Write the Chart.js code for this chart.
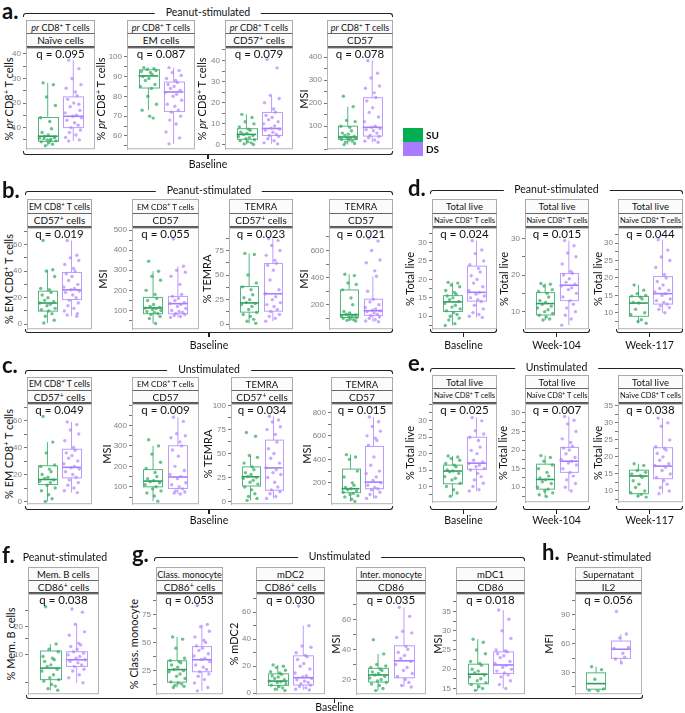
<!DOCTYPE html>
<html>
<head>
<meta charset="utf-8">
<script src="https://cdn.jsdelivr.net/npm/chart.js@4.4.1/dist/chart.umd.min.js"></script>
<style>
* { box-sizing: border-box; }
body { margin: 0; width: 685px; height: 713px; position: relative; background: #fff; font-family: Lato, sans-serif; overflow: hidden; color: #111; }
sup { font-size: 0.7em; line-height: 0; vertical-align: 0.45em; }
.strip { position: absolute; background: #fbfbfb; border: 1px solid #aaa; text-align: center; white-space: nowrap; overflow: hidden; display: flex; align-items: center; justify-content: center; }
.line { position: absolute; border-color: #222; border-style: solid; border-width: 0; }
</style>
</head>
<body>
<script>
// groups
const groups = ['SU', 'DS'];

// box stats are [lower whisker, q1, median, q3, upper whisker]
// a. Peanut-stimulated, baseline
const a1Su = [28.2, 27.5, 22.5, 19, 14, 12.5, 9.5, 8, 7, 6.5, 6, 5.7, 5.3, 5, 4.6, 4.2, 3.8, 3.2, 2.6, 6.2, 5.5, 4.8];
const a1Ds = [37.5, 34, 30, 27.5, 26, 24.5, 23, 21.5, 20, 18.5, 17, 16, 15, 14.6, 14, 13, 12, 11, 10, 9, 8, 7, 6, 5, 4.5, 19.5];
const a1SuBox = [2.6, 4.4, 6.5, 14.1, 28.2];
const a1DsBox = [4.5, 10, 14.6, 22.5, 37.5];
const a1Ticks = [10, 20, 30, 40];

const a2Su = [94.5, 94, 93.5, 93, 92.5, 92, 91, 90, 89, 88, 86, 85, 84, 80, 76, 73, 70, 69];
const a2Ds = [94.5, 93, 92, 90.5, 89, 88, 87, 86, 85, 84, 83, 82, 81, 80, 78, 76, 75, 73, 72, 70, 68, 66, 62, 59, 56];
const a2SuBox = [73, 84.2, 90.3, 93.4, 94.5];
const a2DsBox = [56, 72.3, 82.2, 87.2, 94.5];
const a2Ticks = [60, 70, 80, 90, 100];

const a3Su = [14.5, 13, 11, 10, 8.5, 7.5, 7, 6, 5.5, 5, 4.5, 4, 3.5, 3, 2.5, 2, 1.5, 1, 0.5, 0.2];
const a3Ds = [40.5, 36.5, 23.5, 22, 20, 17, 15.5, 14, 13, 12, 11, 10, 9, 8, 7.5, 7, 6, 5, 4.5, 4, 3, 2, 1, 0.5];
const a3SuBox = [0.2, 2.7, 5, 7.7, 14.5];
const a3DsBox = [0.5, 4.5, 7.8, 15.4, 23.5];
const a3Ticks = [0, 10, 20, 30, 40];

const a4Su = [230, 185, 125, 120, 100, 95, 80, 70, 65, 60, 55, 52, 50, 48, 45, 42, 40, 35, 30, 25, 20];
const a4Ds = [385, 330, 310, 275, 265, 245, 225, 210, 180, 160, 140, 120, 100, 95, 90, 85, 80, 70, 60, 55, 50, 40, 35, 30];
const a4SuBox = [20, 43, 53, 100, 185];
const a4DsBox = [30, 57, 95, 224, 385];
const a4Ticks = [100, 200, 300, 400];

// b. Peanut-stimulated, baseline
const b1Su = [63, 41, 40, 36, 27, 26, 24, 22, 20, 18, 17, 16, 15, 14, 12, 11, 10, 8, 6, 3, 1];
const b1Ds = [63, 52, 50, 48, 45, 42, 40, 38, 36, 33, 30, 28, 27, 26, 25, 24, 22, 20, 18, 16, 14, 12, 10, 8, 7, 6];
const b1SuBox = [1, 9.9, 16, 24.9, 41];
const b1DsBox = [6, 18.6, 25.9, 39, 63];
const b1Ticks = [0, 20, 40, 60];

const b2Su = [345, 295, 270, 250, 200, 180, 160, 150, 130, 120, 115, 112, 110, 105, 100, 95, 90, 85, 80, 70, 60, 35];
const b2Ds = [455, 320, 300, 290, 270, 230, 180, 170, 160, 150, 140, 135, 130, 120, 110, 100, 95, 90, 85, 80, 75, 70, 65];
const b2SuBox = [35, 84, 113, 165, 295];
const b2DsBox = [65, 84, 134, 170, 320];
const b2Ticks = [100, 200, 300, 400, 500];

const b3Su = [72, 71, 50, 42, 38, 35, 30, 27, 25, 22, 21, 20, 18, 15, 12, 10, 8, 5, 3, 1];
const b3Ds = [87, 85, 80, 75, 70, 65, 62, 60, 55, 45, 35, 31, 28, 25, 22, 20, 18, 15, 13, 10, 8, 6, 3];
const b3SuBox = [1, 12.3, 21.7, 38.3, 72];
const b3DsBox = [3, 13.3, 31, 61.7, 87];
const b3Ticks = [0, 25, 50, 75];

const b4Su = [425, 415, 360, 350, 310, 250, 200, 150, 140, 130, 125, 120, 115, 110, 105, 100, 95, 90, 85, 80];
const b4Ds = [690, 670, 600, 530, 510, 450, 410, 300, 240, 220, 200, 180, 170, 160, 155, 150, 140, 130, 120, 110, 100, 90, 80, 75];
const b4SuBox = [80, 107, 127, 309, 425];
const b4DsBox = [75, 122, 156, 241, 410];
const b4Ticks = [200, 400, 600];

// c. Unstimulated, baseline
const c1Su = [63, 44, 36, 27, 26, 24, 22, 20, 18, 17, 16, 15, 14, 12, 10, 8, 5, 2, 0];
const c1Ds = [59, 57, 53, 50, 45, 40, 38, 36, 34, 32, 30, 28, 26, 25, 24, 22, 20, 18, 16, 14, 12, 10, 8, 6.6];
const c1SuBox = [0, 12.6, 16.3, 26.5, 44];
const c1DsBox = [6.6, 17.5, 25.3, 38.7, 59];
const c1Ticks = [0, 20, 40, 60];

const c2Su = [330, 300, 260, 220, 190, 170, 150, 140, 130, 125, 120, 110, 100, 90, 80, 70, 55, 30];
const c2Ds = [440, 420, 360, 350, 340, 320, 300, 280, 250, 200, 180, 160, 150, 140, 120, 110, 100, 90, 80, 75, 70, 65];
const c2SuBox = [30, 100, 128, 184, 300];
const c2DsBox = [65, 92, 148, 301, 440];
const c2Ticks = [100, 200, 300, 400];

const c3Su = [72, 68, 48, 46, 40, 36, 33, 30, 28, 26, 25, 24, 22, 20, 18, 15, 12, 8, 5, 3, 1];
const c3Ds = [89, 85, 83, 78, 75, 70, 62, 55, 50, 45, 40, 35, 33, 30, 28, 25, 20, 15, 12, 10, 8, 5, 3];
const c3SuBox = [1, 16, 25.7, 36, 48];
const c3DsBox = [3, 11.6, 35, 64, 89];
const c3Ticks = [0, 25, 50, 75, 100];

const c4Su = [440, 420, 400, 300, 250, 200, 180, 160, 150, 140, 130, 120, 110, 100, 90, 80, 60, 42];
const c4Ds = [760, 720, 680, 640, 600, 580, 560, 520, 420, 350, 300, 280, 250, 220, 200, 180, 160, 150, 140, 120, 100, 80, 67];
const c4SuBox = [42, 116, 150, 317, 440];
const c4DsBox = [67, 150, 206, 510, 760];
const c4Ticks = [200, 400, 600, 800];

// d. Peanut-stimulated, total live naive CD8+
const d1Su = [19.2, 19, 18.5, 18, 17, 16.5, 16, 15.5, 15, 14.5, 14, 13.5, 13, 12.5, 12, 11.5, 11, 10.5, 10, 9.5, 9, 8, 7.5];
const d1Ds = [30.5, 28, 27, 25, 24, 23, 22, 21, 20, 19, 18, 17, 16.5, 16, 15.5, 15, 14.5, 14, 13, 12, 11, 10.5, 10, 9.7];
const d1SuBox = [7.5, 11.3, 13.9, 15.6, 19.2];
const d1DsBox = [9.7, 14.1, 16.5, 23.6, 30.5];
const d1Ticks = [10, 15, 20, 25, 30];

const d2Su = [17.7, 17.5, 17, 16, 15.5, 15, 14, 13, 12.5, 12, 11.5, 11, 10.5, 10, 9.5, 9, 8.5, 8, 7.7];
const d2Ds = [29.4, 28, 26, 25, 23, 21, 20.5, 20, 19, 18, 17.5, 17, 16.5, 16, 15, 14, 13, 12, 11, 10, 9, 8, 6.3];
const d2SuBox = [7.7, 9.1, 12.2, 15.2, 17.7];
const d2DsBox = [6.3, 13, 17.2, 20.4, 29.4];
const d2Ticks = [10, 20, 30];

const d3Su = [18, 16.5, 15.5, 15, 14.8, 14.5, 14, 13, 12.8, 11, 10, 9.5, 8, 7.5, 7];
const d3Ds = [31, 28, 26, 25, 23, 21, 20, 19, 18, 17, 16.5, 16, 15.5, 15, 14, 13.5, 13, 12.5, 12, 11.5, 11, 10];
const d3SuBox = [7, 9, 12.8, 14.7, 18];
const d3DsBox = [10, 12.5, 15.5, 20.4, 31];
const d3Ticks = [10, 15, 20, 25, 30];

// e. Unstimulated, total live naive CD8+
const e1Su = [19.3, 19, 18.5, 18, 17, 16.5, 16, 15, 14.7, 14.5, 14, 13, 12.5, 12, 11, 10, 9, 8, 7];
const e1Ds = [31, 30, 27, 26, 25, 24, 22, 21, 20, 18, 17.5, 17, 16.5, 16, 15.5, 15, 14, 13, 12, 11, 10, 9, 8.6];
const e1SuBox = [7, 10.8, 14.7, 16.5, 19.3];
const e1DsBox = [8.6, 15.2, 17.1, 25, 31];
const e1Ticks = [10, 15, 20, 25, 30];

const e2Su = [18.5, 18, 17, 16, 15, 14, 13, 12.5, 12, 11.5, 11, 10, 9.5, 9, 8.5, 8, 7.5];
const e2Ds = [29, 28, 27, 25, 23, 22, 21, 20.5, 20, 19, 18, 17.5, 17, 16.5, 16, 15, 14, 13, 12, 11, 10, 9];
const e2SuBox = [7.5, 9.5, 12.1, 16.2, 18.5];
const e2DsBox = [9, 14, 17, 20.7, 29];
const e2Ticks = [10, 15, 20, 25, 30];

const e3Su = [18, 17.5, 16, 15.5, 15, 14.5, 14, 13, 12, 11, 10, 9.5, 9, 8.5, 8.2];
const e3Ds = [31.4, 30, 29, 25, 23, 22.5, 22, 21, 20, 19, 18, 17.5, 17, 16, 15, 14, 13, 12, 11, 10, 9.2];
const e3SuBox = [8.2, 9.2, 14.4, 16.1, 18];
const e3DsBox = [9.2, 13.6, 17.3, 22.7, 31.4];
const e3Ticks = [10, 15, 20, 25, 30, 35];

// f. Peanut-stimulated, memory B cells (log axis)
const fSu = [33, 13.1, 11.5, 10.8, 9.6, 9.2, 8.85, 8.5, 7.8, 7.5, 7.0, 6.7, 6.1, 5.65, 5.4, 5.2, 4.8, 4.6, 4.3, 4.15];
const fDs = [31.3, 28.9, 21.4, 17.7, 16.3, 13.3, 12.8, 12.3, 11.5, 10.8, 10.4, 10, 9.6, 9.2, 8.85, 8.5, 8.2, 7.8, 7.5, 7.0, 6.7, 6.1, 5.65, 5.0];
const fSuBox = [4.15, 5.4, 7.2, 11.0, 13.1];
const fDsBox = [5.0, 7.5, 8.85, 10.8, 21.4];
const fTicks = [10, 20];
const fMinor = [5, 15, 30];

// g. Unstimulated, monocytes and DCs
const g1Su = [55, 53, 45, 36, 34, 33, 32, 30, 28, 26, 25, 24, 22, 20, 18, 15, 14, 13, 12, 11, 10];
const g1Ds = [83, 66, 64, 60, 55, 52, 50, 47, 45, 43, 40, 38, 36, 35, 33, 30, 28, 26, 24, 22, 20, 17, 14, 10, 7];
const g1SuBox = [10, 14.7, 25.9, 33.8, 55];
const g1DsBox = [7, 24, 34.7, 46.4, 66];
const g1Ticks = [25, 50, 75];

const g2Su = [21, 20, 19, 17, 16, 15, 14, 13, 12, 11, 10, 9, 8.5, 8, 7, 6, 5, 4, 3, 2];
const g2Ds = [64.5, 50, 35, 34, 30, 28, 27, 25, 22, 20, 18, 15, 13, 12, 11, 10, 9, 8, 7, 6, 5, 4, 3, 2.4];
const g2SuBox = [2, 5.8, 9, 14.4, 21];
const g2DsBox = [2.4, 6.1, 11.5, 27.7, 50];
const g2Ticks = [0, 20, 40, 60];

const g3Su = [46.5, 37, 30, 29, 28, 27, 26, 25, 24, 23, 22, 21, 20, 19, 18, 17, 16, 14, 12.6];
const g3Ds = [68, 62, 52, 51, 48, 42, 40, 38, 36, 34, 32, 30, 28, 26, 24, 22, 20, 18, 16, 15];
const g3SuBox = [12.6, 18.3, 23, 27.4, 37];
const g3DsBox = [15, 21.1, 32.4, 42.4, 68];
const g3Ticks = [20, 40, 60];

const g4Su = [27.8, 27, 25, 24, 22, 21.5, 21, 20, 19.5, 19, 18.5, 18, 17.5, 17, 16.5, 16, 15.5, 15, 14.5];
const g4Ds = [35.4, 33, 30, 28, 25, 24.8, 24.5, 24, 23.5, 23, 22, 21.5, 21, 20.5, 20, 19.5, 19, 18.5, 18, 17, 16, 15];
const g4SuBox = [14.5, 16.2, 18.7, 21.3, 27.8];
const g4DsBox = [15, 18.9, 21.1, 24.5, 35.4];
const g4Ticks = [15, 20, 25, 30, 35];

// h. Peanut-stimulated, supernatant IL2
const hSu = [36, 33, 23, 13, 11.5, 11];
const hDs = [93.5, 70, 66, 56, 55, 50, 46, 44, 40];
const hSuBox = [11, 12.7, 18.5, 29.7, 36];
const hDsBox = [40, 44.7, 54.2, 62.7, 70];
const hTicks = [30, 60, 90];

// q values
const qA = ['0.095', '0.087', '0.079', '0.078'];
const qB = ['0.019', '0.055', '0.023', '0.021'];
const qC = ['0.049', '0.009', '0.034', '0.015'];
const qD = ['0.024', '0.015', '0.044'];
const qE = ['0.025', '0.007', '0.038'];
const qF = ['0.038'];
const qG = ['0.053', '0.030', '0.035', '0.018'];
const qH = ['0.056'];

// ---- styling ----
const AX = 28, PAD = 6;
const SU_PT = 'rgba(50,170,95,0.72)', DS_PT = 'rgba(176,128,255,0.68)';
const SU_LN = '#55b683', DS_LN = '#bd9cff';
const SU_MED = '#2f9c5f', DS_MED = '#a67cff';
// fixed horizontal jitter pattern for the points
const JIT = [-0.18, 0.22, -0.05, 0.3, -0.28, 0.08, 0.15, -0.22, 0.02, -0.12, 0.26, -0.32, 0.12, -0.02, 0.32, -0.25, 0.05, 0.19, -0.09, 0.28, -0.15, 0.1, -0.3, 0.24];

const rowA = {st: 20, sm: 33, sb: 47, pb: 150};
const rowB = {st: 199, sm: 213, sb: 227, pb: 330};
const rowC = {st: 377, sm: 390, sb: 403, pb: 505};
const rowE = {st: 375, sm: 388, sb: 403, pb: 503};
const rowF = {st: 567, sm: 580, sb: 593, pb: 695};

const PR = '<i>pr</i> CD8<sup>+</sup> T cells';
const EM = 'EM CD8<sup>+</sup> T cells';
const C57P = 'CD57<sup>+</sup> cells';
const C86P = 'CD86<sup>+</sup> cells';
const NAIVE = 'Naïve CD8<sup>+</sup> T cells';

const panels = [
  {su: a1Su, ds: a1Ds, suBox: a1SuBox, dsBox: a1DsBox, ticks: a1Ticks, min: 1.2, max: 42.5, q: qA[0], s1: PR, s1f: 9, s2: 'Naïve cells', yt: '% ' + PR, tx: 8, x0: 26, x1: 95, row: rowA},
  {su: a2Su, ds: a2Ds, suBox: a2SuBox, dsBox: a2DsBox, ticks: a2Ticks, min: 53.3, max: 104.5, q: qA[1], s1: PR, s1f: 9, s2: 'EM cells', yt: '% ' + PR, tx: 100, x0: 127, x1: 195, row: rowA},
  {su: a3Su, ds: a3Ds, suBox: a3SuBox, dsBox: a3DsBox, ticks: a3Ticks, min: -2, max: 46, q: qA[2], s1: PR, s1f: 9, s2: C57P, yt: '% ' + PR, tx: 201, x0: 225, x1: 293, row: rowA},
  {su: a4Su, ds: a4Ds, suBox: a4SuBox, dsBox: a4DsBox, ticks: a4Ticks, min: 0, max: 441, q: qA[3], s1: PR, s1f: 9, s2: 'CD57', yt: 'MSI', tx: 303, x0: 327, x1: 393, row: rowA},

  {su: b1Su, ds: b1Ds, suBox: b1SuBox, dsBox: b1DsBox, ticks: b1Ticks, min: -3.7, max: 72.6, q: qB[0], s1: EM, s1f: 8.6, s2: C57P, yt: '% ' + EM, tx: 8, x0: 27, x1: 92, row: rowB},
  {su: b2Su, ds: b2Ds, suBox: b2SuBox, dsBox: b2DsBox, ticks: b2Ticks, min: 7, max: 511, q: qB[1], s1: EM, s1f: 8, s2: 'CD57', yt: 'MSI', tx: 102, x0: 132, x1: 199, row: rowB},
  {su: b3Su, ds: b3Ds, suBox: b3SuBox, dsBox: b3DsBox, ticks: b3Ticks, min: -5, max: 98, q: qB[2], s1: 'TEMRA', s2: C57P, yt: '% TEMRA', tx: 206, x0: 229, x1: 293, row: rowB},
  {su: b4Su, ds: b4Ds, suBox: b4SuBox, dsBox: b4DsBox, ticks: b4Ticks, min: 20, max: 767, q: qB[3], s1: 'TEMRA', s2: 'CD57', yt: 'MSI', tx: 303, x0: 329, x1: 393, row: rowB},

  {su: d1Su, ds: d1Ds, suBox: d1SuBox, dsBox: d1DsBox, ticks: d1Ticks, min: 6.5, max: 34, q: qD[0], s1: 'Total live', s2: NAIVE, s2f: 7.5, yt: '% Total live', tx: 409, x0: 432, x1: 497, row: rowB},
  {su: d2Su, ds: d2Ds, suBox: d2SuBox, dsBox: d2DsBox, ticks: d2Ticks, min: 5.2, max: 32.9, q: qD[1], s1: 'Total live', s2: NAIVE, s2f: 7.5, yt: '% Total live', tx: 503, x0: 525, x1: 589, row: rowB},
  {su: d3Su, ds: d3Ds, suBox: d3SuBox, dsBox: d3DsBox, ticks: d3Ticks, min: 5.3, max: 34.4, q: qD[2], s1: 'Total live', s2: NAIVE, s2f: 7.5, yt: '% Total live', tx: 597, x0: 618, x1: 683, row: rowB},

  {su: c1Su, ds: c1Ds, suBox: c1SuBox, dsBox: c1DsBox, ticks: c1Ticks, min: -2, max: 72.4, q: qC[0], s1: EM, s1f: 8.6, s2: C57P, yt: '% ' + EM, tx: 8, x0: 27, x1: 92, row: rowC},
  {su: c2Su, ds: c2Ds, suBox: c2SuBox, dsBox: c2DsBox, ticks: c2Ticks, min: 15, max: 506, q: qC[1], s1: EM, s1f: 8, s2: 'CD57', yt: 'MSI', tx: 106, x0: 132, x1: 199, row: rowC},
  {su: c3Su, ds: c3Ds, suBox: c3SuBox, dsBox: c3DsBox, ticks: c3Ticks, min: -3, max: 102, q: qC[2], s1: 'TEMRA', s2: C57P, yt: '% TEMRA', tx: 207, x0: 231, x1: 293, row: rowC},
  {su: c4Su, ds: c4Ds, suBox: c4SuBox, dsBox: c4DsBox, ticks: c4Ticks, min: 18, max: 873, q: qC[3], s1: 'TEMRA', s2: 'CD57', yt: 'MSI', tx: 306, x0: 331, x1: 393, row: rowC},

  {su: e1Su, ds: e1Ds, suBox: e1SuBox, dsBox: e1DsBox, ticks: e1Ticks, min: 5.2, max: 35.2, q: qE[0], s1: 'Total live', s2: NAIVE, s2f: 7.5, yt: '% Total live', tx: 409, x0: 432, x1: 497, row: rowE},
  {su: e2Su, ds: e2Ds, suBox: e2SuBox, dsBox: e2DsBox, ticks: e2Ticks, min: 6, max: 32.4, q: qE[1], s1: 'Total live', s2: NAIVE, s2f: 7.5, yt: '% Total live', tx: 502, x0: 525, x1: 589, row: rowE},
  {su: e3Su, ds: e3Ds, suBox: e3SuBox, dsBox: e3DsBox, ticks: e3Ticks, min: 6.7, max: 35.6, q: qE[2], s1: 'Total live', s2: NAIVE, s2f: 7.5, yt: '% Total live', tx: 597, x0: 618, x1: 683, row: rowE},

  {su: fSu, ds: fDs, suBox: fSuBox, dsBox: fDsBox, ticks: fTicks, minor: fMinor, log: true, min: 3.76, max: 45.6, q: qF[0], s1: 'Mem. B cells', s2: C86P, yt: '% Mem. B cells', tx: 10, x0: 28, x1: 99, row: rowF},
  {su: g1Su, ds: g1Ds, suBox: g1SuBox, dsBox: g1DsBox, ticks: g1Ticks, min: 4, max: 93.4, q: qG[0], s1: 'Class. monocyte', s1f: 9, s2: C86P, yt: '% Class. monocyte', tx: 133, x0: 156, x1: 223, row: rowF},
  {su: g2Su, ds: g2Ds, suBox: g2SuBox, dsBox: g2DsBox, ticks: g2Ticks, min: -0.7, max: 73.6, q: qG[1], s1: 'mDC2', s2: C86P, yt: '% mDC2', tx: 233, x0: 256, x1: 325, row: rowF},
  {su: g3Su, ds: g3Ds, suBox: g3SuBox, dsBox: g3DsBox, ticks: g3Ticks, min: 10.2, max: 77, q: qG[2], s1: 'Inter. monocyte', s1f: 9, s2: 'CD86', yt: 'MSI', tx: 335, x0: 356, x1: 426, row: rowF},
  {su: g4Su, ds: g4Ds, suBox: g4SuBox, dsBox: g4DsBox, ticks: g4Ticks, min: 13.5, max: 39.6, q: qG[3], s1: 'mDC1', s2: 'CD86', yt: 'MSI', tx: 437, x0: 456, x1: 525, row: rowF},
  {su: hSu, ds: hDs, suBox: hSuBox, dsBox: hDsBox, ticks: hTicks, min: 7.5, max: 111.8, q: qH[0], s1: 'Supernatant', s2: 'IL2', yt: 'MFI', tx: 548, x0: 575, x1: 642, row: rowF}
];

function put(html, x, y, css, tr) {
  const d = document.createElement('div');
  d.innerHTML = html;
  d.style.cssText = `position:absolute;left:${x}px;top:${y}px;white-space:nowrap;line-height:1;transform:${tr || 'translate(-50%,-50%)'};${css || ''}`;
  document.body.appendChild(d);
  return d;
}

function box(x, y, w, h, css) {
  const d = document.createElement('div');
  d.className = 'line';
  d.style.cssText += `left:${x}px;top:${y}px;width:${w}px;height:${h}px;${css}`;
  document.body.appendChild(d);
}

function bracketTop(x0, x1, y, label) {
  box(x0, y, x1 - x0, 4, 'border-top-width:1.5px;border-left-width:1.5px;border-right-width:1.5px;border-radius:3px 3px 0 0');
  put(label, (x0 + x1) / 2, y - 1, 'background:#fff;padding:0 11px;font-size:10.5px');
}

function bracketBottom(x0, x1, y, label, ly) {
  box(x0, y - 4, x1 - x0, 4, 'border-bottom-width:1.5px;border-left-width:1.5px;border-right-width:1.5px;border-radius:0 0 3px 3px');
  box((x0 + x1) / 2 - 0.75, y, 1.5, 4, 'background:#222');
  put(label, (x0 + x1) / 2, ly, 'font-size:10.5px');
}

const boxPlugin = p => ({
  id: 'boxes',
  beforeDatasetsDraw(chart) {
    const {ctx, scales: {x, y}} = chart;
    [[1, p.suBox, SU_LN, SU_MED], [2, p.dsBox, DS_LN, DS_MED]].forEach(([c, b, ln, med]) => {
      const cx = x.getPixelForValue(c), hw = x.getPixelForValue(c + 0.39) - cx;
      const [lo, q1, m, q3, hi] = b.map(v => y.getPixelForValue(v));
      ctx.save();
      ctx.strokeStyle = ln; ctx.lineWidth = 1;
      ctx.beginPath();
      ctx.moveTo(cx, lo); ctx.lineTo(cx, q1);
      ctx.moveTo(cx, q3); ctx.lineTo(cx, hi);
      ctx.stroke();
      ctx.strokeRect(Math.round(cx - hw) + 0.5, q3, Math.round(2 * hw), q1 - q3);
      ctx.strokeStyle = med; ctx.lineWidth = 1.6;
      ctx.beginPath(); ctx.moveTo(cx - hw, m); ctx.lineTo(cx + hw, m); ctx.stroke();
      ctx.restore();
    });
  },
  afterDraw(chart) {
    const {ctx, chartArea: a} = chart;
    ctx.save();
    ctx.strokeStyle = '#b5b5b5'; ctx.lineWidth = 1;
    ctx.strokeRect(a.left + 0.5, a.top + 0.5, a.right - a.left - 1, a.bottom - a.top - 1);
    ctx.fillStyle = '#111'; ctx.font = '11.5px Lato'; ctx.textAlign = 'center'; ctx.textBaseline = 'middle';
    ctx.fillText('q = ' + p.q, (a.left + a.right) / 2, a.top + 6.5);
    ctx.restore();
  }
});

function makePanel(p) {
  const r = p.row, W = p.x1 - p.x0, H = r.pb - r.sb;
  // strips
  const s1 = document.createElement('div');
  s1.className = 'strip';
  s1.style.cssText = `left:${p.x0}px;top:${r.st}px;width:${W}px;height:${r.sm - r.st + 1}px;font-size:${p.s1f || 9.5}px;border-bottom:1.5px solid #666`;
  s1.innerHTML = '<span>' + p.s1 + '</span>';
  document.body.appendChild(s1);
  const s2 = document.createElement('div');
  s2.className = 'strip';
  s2.style.cssText = `left:${p.x0}px;top:${r.sm + 1}px;width:${W}px;height:${r.sb - r.sm}px;font-size:${p.s2f || 10}px;border-top:0;border-bottom:2px solid #555`;
  s2.innerHTML = '<span>' + p.s2 + '</span>';
  document.body.appendChild(s2);
  // y title
  put(p.yt, p.tx, (r.sb + r.pb) / 2, 'font-size:11px', 'translate(-50%,-50%) rotate(-90deg)');

  const cv = document.createElement('canvas');
  cv.width = AX + W + PAD; cv.height = H + 2 * PAD;
  cv.style.cssText = `position:absolute;left:${p.x0 - AX}px;top:${r.sb - PAD}px`;
  document.body.appendChild(cv);

  const majors = p.ticks;
  let tickVals = [];
  if (p.log) tickVals = p.minor.concat(majors);
  else {
    const step = majors[1] - majors[0];
    for (let k = -2; ; k++) {
      const v = majors[0] + k * step / 2;
      if (v > p.max) break;
      if (v >= p.min) tickVals.push(v);
    }
  }
  const pts = (vals, c) => vals.map((v, i) => ({x: c + JIT[i % JIT.length], y: v}));

  new Chart(cv, {
    type: 'scatter',
    data: {
      datasets: [
        {label: groups[0], data: pts(p.su, 1), backgroundColor: SU_PT, pointRadius: 1.7, borderWidth: 0},
        {label: groups[1], data: pts(p.ds, 2), backgroundColor: DS_PT, pointRadius: 1.7, borderWidth: 0}
      ]
    },
    options: {
      responsive: false, animation: false, devicePixelRatio: 1, events: [],
      layout: {padding: {top: PAD, bottom: PAD, left: 0, right: PAD}},
      plugins: {legend: {display: false}, tooltip: {enabled: false}},
      scales: {
        x: {type: 'linear', display: false, min: 0.15, max: 2.85},
        y: {
          type: p.log ? 'logarithmic' : 'linear', min: p.min, max: p.max,
          afterFit: s => { s.width = AX; },
          afterBuildTicks: s => { s.ticks = tickVals.map(v => ({value: v})); },
          grid: {drawOnChartArea: false, drawTicks: true, tickLength: 3, color: '#777'},
          border: {display: true, color: '#b5b5b5'},
          ticks: {
            font: {family: 'Liberation Sans', size: 8}, color: '#808080', padding: 2, autoSkip: false,
            callback: v => majors.some(m => Math.abs(m - v) < 1e-9) ? String(v) : ''
          }
        }
      }
    },
    plugins: [boxPlugin(p)]
  });
}

panels.forEach(makePanel);

// panel letters
[['a.', 2, 0], ['b.', 2, 179], ['c.', 2, 354], ['d.', 408, 177], ['e.', 408, 352], ['f.', 2, 544], ['g.', 132, 543], ['h.', 542, 541]]
  .forEach(([t, x, y]) => put(t, x, y, 'font-size:22px;font-weight:bold', 'none'));

// condition brackets
bracketTop(23, 393, 13, 'Peanut-stimulated');
bracketBottom(23, 393, 155, 'Baseline', 164);
bracketTop(25, 393, 191, 'Peanut-stimulated');
bracketBottom(25, 393, 333, 'Baseline', 345);
bracketTop(25, 393, 370, 'Unstimulated');
bracketBottom(25, 393, 510, 'Baseline', 520);
bracketTop(430, 683, 190, 'Peanut-stimulated');
bracketTop(430, 683, 368, 'Unstimulated');
const weeks = ['Baseline', 'Week-104', 'Week-117'];
[[430, 497], [523, 590], [616, 683]].forEach(([x0, x1], i) => {
  bracketBottom(x0, x1, 333, weeks[i], 345);
  bracketBottom(x0, x1, 510, weeks[i], 520);
});
bracketTop(154, 525, 557, 'Unstimulated');
put('Peanut-stimulated', 65, 557, 'font-size:10.5px');
put('Peanut-stimulated', 609, 557, 'font-size:10.5px');
bracketBottom(26, 643, 699, 'Baseline', 707);

// legend
box(403, 128, 20, 14, 'background:#00b050');
box(403, 142, 20, 14, 'background:#a97cff');
put(groups[0], 426, 135, 'font-size:10px;font-weight:bold', 'translate(0,-50%)');
put(groups[1], 426, 149, 'font-size:10px;font-weight:bold', 'translate(0,-50%)');
</script>
</body>
</html>
